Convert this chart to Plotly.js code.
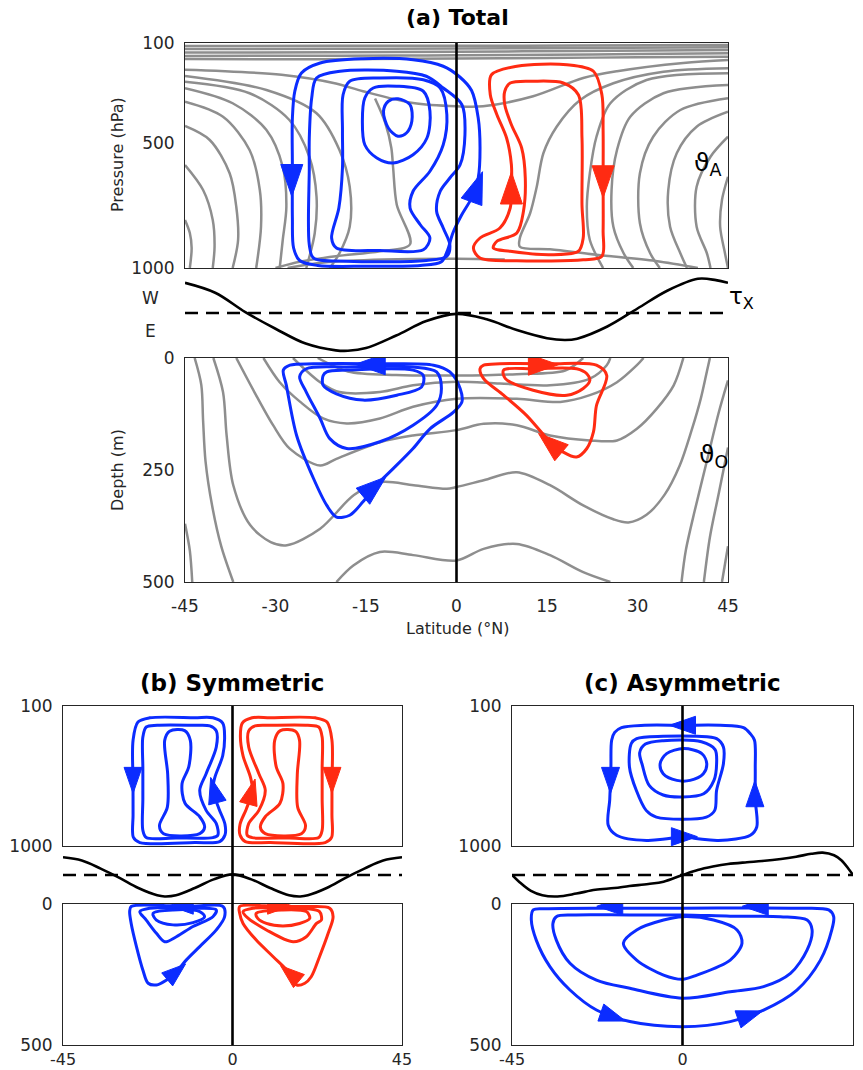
<!DOCTYPE html>
<html><head><meta charset="utf-8">
<script src="https://cdn.plot.ly/plotly-3.0.1.min.js"></script>
<style>html,body{margin:0;padding:0;background:#fff}</style>
</head><body><div id="chart" style="width:863px;height:1070px"></div>
<script>
// ---------------- tick labels ----------------
const tickLatA = [-45,-30,-15,0,15,30,45];
const tickLatTextA = ['-45','-30','-15','0','15','30','45'];
const tickPresA = [100,500,1000];
const tickDepthA = [0,250,500];
const tickLatBC = [-45,0,45];
const tickLatTextBC = ['-45','0','45'];
const tickPresBC = [100,1000];
const tickDepthBC = [0,500];

// ---------------- wind stress (arbitrary units, 0 = dashed line) ----------------
const windLatA = [-45,-40,-35,-30,-25,-20,-18,-15,-10,-5,0,5,10,15,18,20,25,30,35,40,43,45];
const windTauA = [0.67,0.45,0.02,-0.35,-0.68,-0.83,-0.84,-0.78,-0.5,-0.18,-0.02,-0.14,-0.38,-0.56,-0.6,-0.57,-0.3,0.1,0.5,0.76,0.73,0.67];
const windLatB = [-45,-40,-35,-30,-25,-20,-18,-15,-10,-5,0,5,10,15,18,20,25,30,35,40,45];
const windTauB = [0.61,0.5,0.22,-0.1,-0.45,-0.7,-0.74,-0.7,-0.45,-0.15,0.02,-0.15,-0.45,-0.7,-0.74,-0.7,-0.45,-0.1,0.22,0.5,0.61];
const windLatC = [-45,-43,-40,-37,-33,-28,-23,-18,-14,-9,-5,0,4,8,12,17,21,26,30,34,37,40,42,44,45];
const windTauC = [0,-0.25,-0.55,-0.7,-0.74,-0.64,-0.51,-0.45,-0.38,-0.31,-0.23,0,0.17,0.29,0.38,0.44,0.48,0.55,0.63,0.73,0.77,0.68,0.5,0.18,0];

// ---------------- (a) atmosphere isotherms [lat, hPa] ----------------
const aT1 = [[-45,112],[-20,111],[0,111],[20,110],[45,108]];
const aT2 = [[-45,124],[-20,123],[0,122],[20,120],[45,117]];
const aT3 = [[-45,138],[-20,137],[0,135],[20,132],[45,128]];
const aT4 = [[-45,152],[-25,151],[-10,150],[0,149],[15,147],[30,144],[45,141]];
const aT5 = [[-45,164],[-30,165],[-15,164],[0,162],[15,160],[30,157],[45,155]];
const aLa = [[-45,207],[-29,227],[-20,262],[-15.5,293],[-7.2,340],[0,353],[4.4,353],[12.7,313],[21,240],[26.6,213],[37.6,180],[45,168]];
const aA1 = [[-45,808],[-44.2,860],[-43.9,920],[-44.2,1000]];
const aA2 = [[-45,588],[-42,688],[-40.4,808],[-40.1,915],[-40.4,1000]];
const aA3 = [[-45,432],[-40.9,488],[-37.6,621],[-36.5,755],[-36.2,888],[-37.1,1000]];
const aA4 = [[-45,335],[-38.7,395],[-34.3,528],[-32.6,688],[-32.4,835],[-33.2,1000]];
const aA5 = [[-45,281],[-37.1,341],[-31.5,448],[-28.8,595],[-28.2,755],[-28.8,888],[-29.3,1000]];
const aA6 = [[-45,255],[-34.3,301],[-27.7,408],[-24.4,555],[-23.2,715],[-23.5,861],[-24.9,1000]];
const aA7 = [[-45,232],[-31.5,288],[-23.2,381],[-19.4,528],[-17.7,675],[-17.7,835],[-19.4,941],[-21,1000]];
const aMid = [[-13.5,322],[-11.8,420],[-10.8,520],[-10.5,600],[-9.9,747],[-7.7,905],[-12.7,933],[-20,953],[-26,975],[-30,1000]];
const aRa = [[45,635],[44,728],[43.7,835],[44.5,941],[45,1000]];
const aRb = [[45,475],[42.1,555],[39.8,675],[39.8,835],[41.5,941],[42.1,1000]];
const aRc = [[45,375],[39.8,435],[36.5,541],[35.1,688],[35.4,835],[37.1,941],[38.2,1000]];
const aRd = [[45,321],[37.1,368],[32.6,475],[30.4,621],[30.4,821],[32.1,941],[33.7,1000]];
const aRe = [[45,268],[34.3,301],[28.8,395],[26.6,528],[25.7,688],[26,835],[27.7,941],[29.3,1000]];
const aRf = [[45,221],[31.5,248],[25.5,341],[23.2,475],[22.1,621],[21.6,755],[22.1,888],[24.3,1000]];
const aRg = [[45,201],[34.3,215],[26,261],[20.5,328],[16.6,435],[14.4,541],[13.3,675],[12.2,781],[10.5,880],[10.5,915],[15.5,925],[23.2,947],[33,972],[40,1000]];
const aBot = [[-28,1000],[-22,978],[-12,966],[0,963],[8,966]];

// ---------------- (a) ocean isotherms [lat, m] ----------------
const oAlpha = [[-43.4,0],[-42.3,60],[-42,140],[-41.6,230],[-40.5,330],[-39,420],[-37,500]];
const oAlpha2 = [[-45,370],[-44.2,430],[-43.8,500]];
const oBeta = [[-40.3,0],[-38.7,76],[-38.1,173],[-37,284],[-34.2,373],[-30.8,411],[-28.1,418],[-22.6,381],[-17,306],[-12.6,277],[-7.1,284],[-1.6,292],[0,288],[4.5,273],[10,255],[15.5,284],[21,329],[26,360],[28.5,367],[31.5,350],[34.5,305],[37,240],[39,160],[40.5,90],[41.5,30],[42,0]];
const oGamma = [[-36.5,0],[-33.5,76],[-30.4,150],[-27.6,203],[-22.6,240],[-19.9,225],[-12.7,188],[-7.2,173],[0,161],[4.5,147],[10,150],[15.5,173],[22.1,184],[26.6,184],[29.9,158],[33.2,113],[36,61],[37.6,0]];
const oDelta = [[-32,0],[-29.3,54],[-25.9,98],[-22.1,135],[-18.2,146],[-12.7,135],[-7.2,109],[0,91],[10,91],[17.2,98],[22.1,83],[26.6,54],[29.9,16],[31,0]];
const oEps = [[-27.1,0],[-22.6,54],[-19.4,76],[-12.7,76],[-7.2,61],[0,53],[7.2,57],[15.5,61],[22.1,46],[24.9,16],[25.5,0]];
const oZeta = [[-23,0],[-18,30],[-10,38],[0,39],[10,36],[18,28],[21,0]];
const oDeep = [[-19.9,500],[-17.1,463],[-12.7,433],[-7.2,440],[0,452],[4.5,426],[10,415],[15.5,440],[21,478],[25.5,500]];
const oR1 = [[45,50],[43.5,120],[41.5,230],[39.5,340],[38,430],[37.3,500]];
const oR2 = [[45,200],[43.5,300],[42,400],[41,500]];
const oR3 = [[45,420],[44,500]];

// ---------------- (a) streamlines ----------------
const aB1 = [[-27.2,600],[-27.2,400],[-26.8,293],[-25.7,220],[-22.6,180],[-15.5,163],[-7.2,167],[-2.2,193],[0.5,235],[2.5,290],[3.6,400],[3.9,520],[3.6,640],[2.5,720],[0.8,790],[-0.6,860],[-1.5,930],[-2.5,975],[-6,990],[-15,993],[-23,990],[-26,970],[-27,920],[-27.2,800],[-27.2,600]];
const aB2 = [[-24.4,600],[-24.4,480],[-24,320],[-23.2,240],[-19.3,213],[-9.9,213],[-5,233],[-2.2,280],[0.9,347],[1.4,467],[0.6,587],[-1.1,640],[-2.7,693],[-3.3,773],[-2.2,840],[-1.1,907],[-1.6,953],[-5,970],[-18.2,973],[-23.7,960],[-24.4,907],[-24.4,600]];
const aB3 = [[-18.9,450],[-18.8,307],[-17.7,253],[-12.7,240],[-5.5,247],[-2.7,280],[-1.6,387],[-2.2,507],[-4.4,613],[-7.2,693],[-7.7,760],[-6,827],[-4.4,880],[-5.5,927],[-12.7,930],[-19.9,920],[-20.7,880],[-19.5,760],[-18.9,600],[-18.9,450]];
const aB4 = [[-15.6,413],[-15.2,320],[-13.8,280],[-9.9,273],[-5.5,293],[-4.4,373],[-4.9,480],[-7.2,547],[-10.5,580],[-13.2,560],[-15.2,507],[-15.6,413]];
const aB5 = [[-12.1,373],[-11.3,333],[-9.7,323],[-7.7,347],[-7.4,413],[-8.3,460],[-9.7,473],[-11.3,440],[-12.1,373]];
const aR1 = [[9.1,587],[8.3,480],[6.7,387],[5.6,307],[5.8,227],[10,193],[18.3,187],[22.7,213],[24.1,307],[24.3,450],[24.3,650],[24.3,850],[24.1,953],[21,967],[10,971],[3.9,960],[2.8,920],[3.9,880],[7.2,840],[8.9,760],[9.1,680],[9.1,587]];
const aR2 = [[11.4,640],[10.8,520],[9.1,427],[8,347],[8,293],[8.9,260],[12.7,253],[17.7,260],[20.2,307],[20.8,480],[20.8,747],[21,880],[20.2,933],[15.5,947],[8.9,933],[6.1,920],[6.7,893],[10,860],[11.1,773],[11.4,640]];
const aOB1 = [[-23.7,13],[-27.6,16],[-28.7,27],[-28.2,61],[-26.5,173],[-23.7,269],[-21.5,329],[-19.9,355],[-17.7,351],[-15.5,321],[-13.3,284],[-10.5,247],[-7.2,202],[-4.4,158],[-0.5,121],[0.9,98],[0.6,68],[-1.1,31],[-3.8,16],[-12.7,13],[-23.7,13]];
const aOB2 = [[-18.2,20],[-24.9,24],[-26,42],[-24.9,76],[-22.6,135],[-21,180],[-18.2,202],[-12.7,187],[-7.2,150],[-3.3,106],[-2.5,68],[-3.3,31],[-7.2,20],[-18.2,20]];
const aOB3 = [[-18.2,27],[-21.5,31],[-22.1,39],[-22.1,61],[-19.9,80],[-15.5,94],[-9.9,83],[-5.8,65],[-5.5,39],[-7.2,27],[-18.2,27]];
const aOR1 = [[15.5,13],[7.2,13],[4.5,16],[3.9,24],[4.5,46],[7.8,83],[11.6,128],[15.5,187],[17.7,210],[19.9,221],[21.6,202],[22.7,165],[23.2,106],[24.9,39],[23.2,16],[15.5,13]];
const aOR2 = [[12.7,24],[7.8,27],[8.1,46],[12.7,72],[18.3,83],[21,68],[22.1,50],[21.6,35],[19.9,24],[12.7,24]];
// arrows: [lat, value, heading (deg clockwise from up)]
const aAtmArrowsBlue = [[-27.3,650,180],[3.4,675,20]];
const aAtmArrowsRed = [[9.1,680,0],[24.3,655,180]];
const aOcnArrowsBlue = [[-14.3,14,270],[-13.6,287,50]];
const aOcnArrowsRed = [[14.4,15,90],[15.5,190,-50]];

// ---------------- (b) symmetric ----------------
const bB1 = [[-26.4,320],[-25.1,203],[-22,176],[-10,175],[-5.2,176],[-2.6,210],[-2.1,300],[-2.6,420],[-4.7,560],[-5.2,640],[-3.6,760],[-2,860],[-2,930],[-3.4,972],[-10,978],[-24.6,978],[-26.3,945],[-26.4,800],[-26.4,600],[-26.4,320]];
const bB2 = [[-23.8,300],[-22.9,235],[-20,224],[-10,224],[-6,228],[-4.3,260],[-4.3,364],[-7,535],[-8.7,642],[-7,771],[-4.3,856],[-3.9,931],[-5.2,946],[-15,948],[-22.9,946],[-23.8,899],[-23.8,700],[-23.8,500],[-23.8,300]];
const bB3 = [[-18,321],[-16.7,262],[-12.7,258],[-11.2,321],[-11.6,490],[-13.4,600],[-12.6,725],[-8.7,812],[-7.4,878],[-8.7,920],[-18.3,921],[-19.4,870],[-17.3,750],[-17.2,540],[-18,321]];
const bR1 = [[26.4,320],[25.1,203],[22,176],[10,175],[5.2,176],[2.6,210],[2.1,300],[2.8,420],[4.8,560],[5.3,640],[3.7,760],[2,860],[2,930],[3.4,972],[10,978],[24.6,978],[26.3,945],[26.4,800],[26.4,600],[26.4,320]];
const bR2 = [[23.8,300],[22.9,235],[20,224],[10,224],[6,228],[4.3,260],[4.3,364],[7,535],[8.7,642],[7,771],[4.3,856],[3.9,931],[5.2,946],[15,948],[22.9,946],[23.8,899],[23.8,700],[23.8,500],[23.8,300]];
const bR3 = [[17.8,321],[16.7,262],[12.7,258],[11.2,321],[11.6,490],[13.4,600],[12.6,725],[8.7,812],[7.4,878],[8.7,920],[18.3,921],[19.4,870],[17.3,750],[17.2,540],[17.8,321]];
const bOB1 = [[-12,9],[-2.5,9],[-2.1,45],[-4.3,92],[-8.7,151],[-12.3,199],[-14.9,240],[-17.6,270],[-20.2,287],[-22.4,281],[-23.8,234],[-25.5,151],[-26.9,69],[-27.3,27],[-26.9,9],[-12,9]];
const bOB2 = [[-15,15],[-22,15],[-24.6,27],[-22.9,57],[-20.2,104],[-18,134],[-14.9,116],[-10.5,80],[-5.2,45],[-4.3,21],[-8.7,15],[-15,15]];
const bOB3 = [[-15.8,21],[-8.7,27],[-7.4,45],[-10.5,66],[-15.8,74],[-20.2,57],[-21.1,33],[-15.8,21]];
const bOR1 = [[12,9],[1.9,9],[1.9,33],[2.8,69],[6.3,128],[10.8,187],[15.2,246],[17,287],[19.2,281],[20.9,258],[23.1,187],[25.4,104],[26.7,45],[25.8,15],[20,9],[12,9]];
const bOR2 = [[12,15],[5.4,15],[2.8,27],[3.7,45],[9,92],[16.1,134],[19.6,116],[22.3,69],[23.6,57],[23.1,27],[20,17],[12,15]];
const bOR3 = [[13,21],[6.3,33],[6.7,51],[9,69],[13.4,78],[17.8,69],[20.5,51],[19.6,27],[13,21]];
const bAtmArrowsBlue = [[-26.4,578,180],[-4.9,640,-15]];
const bAtmArrowsRed = [[26.4,578,180],[5.1,650,15]];
const bOcnArrowsBlue = [[-13.6,6,270],[-14.9,240,50]];
const bOcnArrowsRed = [[12.5,6,90],[15.2,246,-50]];

// ---------------- (c) asymmetric ----------------
const cB1 = [[0,224],[-10,224],[-16.1,239],[-17.9,270],[-18.7,320],[-18.9,500],[-19.2,700],[-19.6,867],[-17.4,931],[-9.5,964],[-1.6,942],[0,925],[1.6,942],[9.5,964],[17.9,931],[19.6,878],[19.2,700],[19.2,500],[19,320],[17.9,278],[16.1,239],[10,224],[0,224]];
const cB2 = [[-5.1,295],[-12.1,310],[-13.5,340],[-14,492],[-12.2,642],[-9.6,771],[-6.9,814],[6.3,814],[8.5,771],[9,642],[10.8,471],[10.8,364],[9,310],[3.8,295],[-5.1,295]];
const cB3 = [[-5.1,323],[-9.8,345],[-11.3,400],[-10.6,480],[-8.8,610],[-5.1,672],[0,685],[5.6,664],[8.3,578],[9,471],[8.6,380],[5,330],[-5.1,323]];
const cB4 = [[-4.2,406],[-5.9,471],[-5.1,535],[-1.5,578],[2,578],[5.5,535],[6.4,471],[5.1,406],[0.3,374],[-4.2,406]];
const cO1 = [[0,15],[-20,15],[-36,17],[-39.4,21],[-39.9,57],[-38.6,128],[-35,222],[-29.7,305],[-22.7,376],[-13.9,417],[0,435],[12.6,417],[21.4,376],[30.2,305],[36.4,199],[39.4,92],[39.9,45],[38.6,21],[30,15],[0,15]];
const cO2 = [[0,39],[-13.9,39],[-28.9,39],[-33.3,45],[-34.2,69],[-33.3,128],[-29.7,210],[-22.7,270],[-13.9,299],[0,334],[12.6,311],[21.4,293],[28.5,246],[32.9,163],[34.2,92],[32.9,57],[25.8,45],[12.6,43],[0,39]];
const cO3 = [[0,45],[-5,57],[-12.1,92],[-15.6,139],[-12.1,199],[-5,252],[0,267],[3.8,252],[12.6,199],[15.7,139],[14.4,92],[8.2,57],[0,45]];
const cAtmArrows = [[0,224,270],[-19,578,180],[19.1,664,0],[0.5,940,90]];
const cOcnArrows = [[-19.2,8,270],[19.2,8,270],[-18.3,400,109],[17.9,394,71]];

// ================= drawing =================
const FIG_W = 863, FIG_H = 1070;
const BLUE = '#0b2cff', RED = '#ff2b12', GRAY = '#8e8e8e', INK = '#262626';
const PANELS = {
  a: {x:[185,728], atm:[43,268], wind:[268,358], ocn:[358,582], ax:['x','x2','x3'], ay:['y','y2','y3']},
  b: {x:[63,402], atm:[706,846], wind:[846,904], ocn:[904,1045], ax:['x4','x5','x6'], ay:['y4','y5','y6']},
  c: {x:[512,853], atm:[706,846], wind:[846,904], ocn:[904,1045], ax:['x7','x8','x9'], ay:['y7','y8','y9']}
};
const LAYER = {atm:0, wind:1, ocn:2};
const RANGE = {atm:[100,1000], ocn:[0,500]};

function toPx(p, layer, lat, v){
  const P = PANELS[p], r = RANGE[layer], yy = P[layer];
  return [P.x[0] + (lat+45)/90*(P.x[1]-P.x[0]), yy[0] + (v-r[0])/(r[1]-r[0])*(yy[1]-yy[0])];
}
function fromPx(p, layer, px, py){
  const P = PANELS[p], r = RANGE[layer], yy = P[layer];
  return [-45 + (px-P.x[0])/(P.x[1]-P.x[0])*90, r[0] + (py-yy[0])/(yy[1]-yy[0])*(r[1]-r[0])];
}
function closed(arr){
  const a = arr.slice();
  const f = a[0], l = a[a.length-1];
  if (f[0]!==l[0] || f[1]!==l[1]) a.push(f);
  return a;
}
const traces = [];
function line(p, layer, arr, color, width, isClosed){
  const a = isClosed ? closed(arr) : arr;
  const P = PANELS[p], i = LAYER[layer];
  traces.push({type:'scatter', mode:'lines', x:a.map(q=>q[0]), y:a.map(q=>q[1]),
    xaxis:P.ax[i], yaxis:P.ay[i], line:{color:color, width:width, shape:'spline', smoothing:0.9},
    hoverinfo:'skip', showlegend:false, cliponaxis:true});
}
function arrows(p, layer, list, color, L, Wd){
  const P = PANELS[p], i = LAYER[layer];
  list.forEach(a => {
    const c = toPx(p, layer, a[0], a[1]);
    const t = a[2]*Math.PI/180;
    const ux = Math.sin(t), uy = -Math.cos(t);
    const nx = Math.cos(t), ny = Math.sin(t);
    const tip = [c[0]+ux*L/2, c[1]+uy*L/2];
    const b1 = [c[0]-ux*L/2+nx*Wd/2, c[1]-uy*L/2+ny*Wd/2];
    const b2 = [c[0]-ux*L/2-nx*Wd/2, c[1]-uy*L/2-ny*Wd/2];
    const pts = [tip,b1,b2,tip].map(q => fromPx(p, layer, q[0], q[1]));
    traces.push({type:'scatter', mode:'lines', x:pts.map(q=>q[0]), y:pts.map(q=>q[1]),
      xaxis:P.ax[i], yaxis:P.ay[i], fill:'toself', fillcolor:color,
      line:{color:color, width:1}, hoverinfo:'skip', showlegend:false, cliponaxis:false});
  });
}
function wind(p, lat, tau){
  const P = PANELS[p];
  traces.push({type:'scatter', mode:'lines', x:lat, y:tau, xaxis:P.ax[1], yaxis:P.ay[1],
    line:{color:'#000', width:2.6, shape:'spline', smoothing:1}, hoverinfo:'skip', showlegend:false, cliponaxis:false});
}

// (a) isotherms
[aT1,aT2,aT3,aT4,aT5,aLa,aA1,aA2,aA3,aA4,aA5,aA6,aA7,aMid,aRa,aRb,aRc,aRd,aRe,aRf,aRg,aBot]
  .forEach(g => line('a','atm',g,GRAY,2.5,false));
[oAlpha,oAlpha2,oBeta,oGamma,oDelta,oEps,oZeta,oDeep,oR1,oR2,oR3]
  .forEach(g => line('a','ocn',g,GRAY,2.5,false));
// wind
wind('a', windLatA, windTauA);
wind('b', windLatB, windTauB);
wind('c', windLatC, windTauC);
// (a) loops
[aB1,aB2,aB3,aB4,aB5].forEach(g => line('a','atm',g,BLUE,3,true));
[aR1,aR2].forEach(g => line('a','atm',g,RED,3,true));
[aOB1,aOB2,aOB3].forEach(g => line('a','ocn',g,BLUE,3,true));
[aOR1,aOR2].forEach(g => line('a','ocn',g,RED,3,true));
arrows('a','atm',aAtmArrowsBlue,BLUE,32,22);
arrows('a','atm',aAtmArrowsRed,RED,32,22);
arrows('a','ocn',aOcnArrowsBlue,BLUE,30,21);
arrows('a','ocn',aOcnArrowsRed,RED,30,21);
// (b)
[bB1,bB2,bB3].forEach(g => line('b','atm',g,BLUE,3,true));
[bR1,bR2,bR3].forEach(g => line('b','atm',g,RED,3,true));
[bOB1,bOB2,bOB3].forEach(g => line('b','ocn',g,BLUE,3,true));
[bOR1,bOR2,bOR3].forEach(g => line('b','ocn',g,RED,3,true));
arrows('b','atm',bAtmArrowsBlue,BLUE,26,18);
arrows('b','atm',bAtmArrowsRed,RED,26,18);
arrows('b','ocn',bOcnArrowsBlue,BLUE,24,17);
arrows('b','ocn',bOcnArrowsRed,RED,24,17);
// (c)
[cB1,cB2,cB3,cB4].forEach(g => line('c','atm',g,BLUE,3,true));
[cO1,cO2,cO3].forEach(g => line('c','ocn',g,BLUE,3,true));
arrows('c','atm',cAtmArrows,BLUE,26,18);
arrows('c','ocn',cOcnArrows,BLUE,26,18);

// ---------------- layout ----------------
const dx = r => [r[0]/FIG_W, r[1]/FIG_W];
const dy = r => [1 - r[1]/FIG_H, 1 - r[0]/FIG_H];
const layout = {width:FIG_W, height:FIG_H, autosize:false, margin:{l:0,r:0,t:0,b:0},
  paper_bgcolor:'#fff', plot_bgcolor:'rgba(0,0,0,0)', showlegend:false, hovermode:false,
  shapes:[], annotations:[]};
function axName(n){ return n.length===1 ? n+'axis' : n[0]+'axis'+n.slice(1); }
const frame = {showline:true, mirror:true, linecolor:INK, linewidth:1, showgrid:false, zeroline:false, ticks:''};
const tf = {family:'DejaVu Sans', size:17, color:INK};
const tfSmall = {family:'DejaVu Sans', size:16, color:INK};
['a','b','c'].forEach(k => {
  const P = PANELS[k];
  const big = k==='a';
  // atm
  layout[axName(P.ax[0])] = Object.assign({}, frame, {domain:dx(P.x), range:[-45,45], anchor:P.ay[0], showticklabels:false});
  layout[axName(P.ay[0])] = Object.assign({}, frame, {domain:dy(P.atm), range:[1000,100], anchor:P.ax[0],
    tickmode:'array', tickvals: big?tickPresA:tickPresBC, ticktext:(big?tickPresA:tickPresBC).map(String), tickfont:tf, ticklabelstandoff:6});
  // wind
  layout[axName(P.ax[1])] = {domain:dx(P.x), range:[-45,45], anchor:P.ay[1], visible:false};
  layout[axName(P.ay[1])] = {domain:dy(P.wind), range:[-1,1], anchor:P.ax[1], visible:false};
  // ocean
  layout[axName(P.ax[2])] = Object.assign({}, frame, {domain:dx(P.x), range:[-45,45], anchor:P.ay[2],
    tickmode:'array', tickvals: big?tickLatA:tickLatBC, ticktext: big?tickLatTextA:tickLatTextBC,
    tickfont: big?tf:tfSmall, ticklabelstandoff: big?9:0});
  layout[axName(P.ay[2])] = Object.assign({}, frame, {domain:dy(P.ocn), range:[500,0], anchor:P.ax[2],
    tickmode:'array', tickvals: big?tickDepthA:tickDepthBC, ticktext:(big?tickDepthA:tickDepthBC).map(String), tickfont:tf, ticklabelstandoff:6});
  // equator line through all three parts
  layout.shapes.push({type:'line', xref:P.ax[2], yref:'paper', x0:0, x1:0,
    y0:1-P.ocn[1]/FIG_H, y1:1-P.atm[0]/FIG_H, line:{color:'#000', width:2.6}});
  // zero wind stress dashed line
  layout.shapes.push({type:'line', xref:P.ax[1], yref:P.ay[1], x0:-45, x1:45, y0:0, y1:0,
    line:{color:'#000', width:2.6, dash:'13px,8px'}});
});
function ann(text, px, py, size, extra){
  return Object.assign({text:text, x:px/FIG_W, y:1-py/FIG_H, xref:'paper', yref:'paper', showarrow:false,
    xanchor:'center', yanchor:'middle', font:{family:'DejaVu Sans', size:size, color:INK}}, extra||{});
}
layout.annotations.push(
  ann('<b>(a) Total</b>', 457, 18, 22, {font:{family:'DejaVu Sans', size:22, color:'#000'}}),
  ann('<b>(b) Symmetric</b>', 232, 683, 23, {font:{family:'DejaVu Sans', size:23, color:'#000'}}),
  ann('<b>(c) Asymmetric</b>', 682, 683, 23, {font:{family:'DejaVu Sans', size:23, color:'#000'}}),
  ann('Pressure (hPa)', 118, 155, 16, {textangle:-90}),
  ann('Depth (m)', 118, 470, 16, {textangle:-90}),
  ann('Latitude (°N)', 457, 628, 16),
  ann('W', 150, 298, 17),
  ann('E', 150, 331, 17),
  ann('ϑ<sub>A</sub>', 707, 164, 25, {font:{family:'DejaVu Sans', size:25, color:'#000'}}),
  ann('τ<sub>X</sub>', 741, 298, 23, {font:{family:'DejaVu Sans', size:23, color:'#000'}}),
  ann('ϑ<sub>O</sub>', 713, 456, 25, {font:{family:'DejaVu Sans', size:25, color:'#000'}})
);
Plotly.newPlot('chart', traces, layout, {staticPlot:true, displayModeBar:false});
</script></body></html>
